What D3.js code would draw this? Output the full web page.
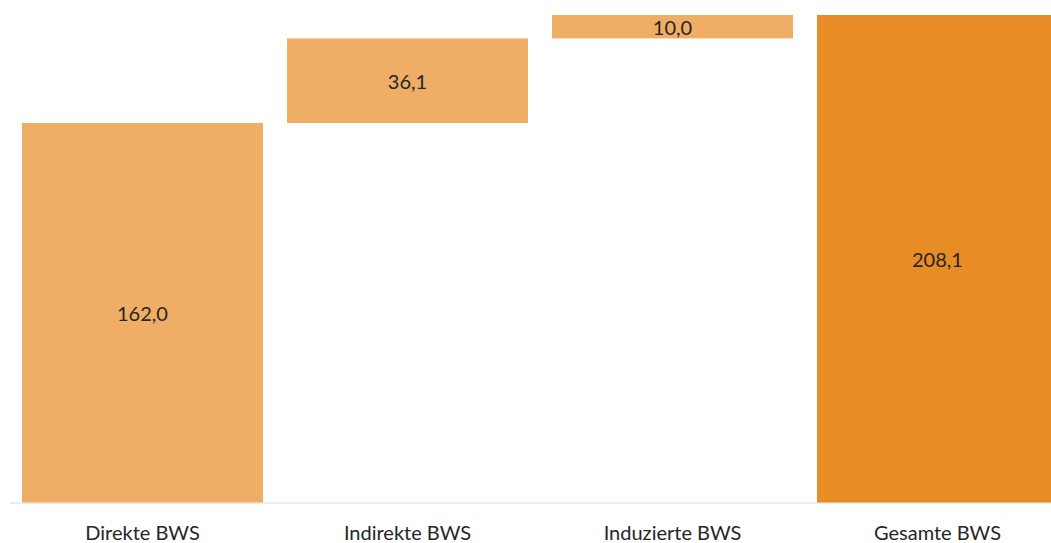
<!DOCTYPE html>
<html>
<head>
<meta charset="utf-8">
<script src="https://cdn.jsdelivr.net/npm/d3@7"></script>
<style>
  html, body { margin: 0; padding: 0; background: #fff; }
  svg { display: block; }
</style>
</head>
<body>
<svg id="chart" width="1051" height="543"></svg>
<script>
// Bruttowertschöpfung: direkte, indirekte, induzierte Effekte und Summe
const categories = ["Direkte BWS", "Indirekte BWS", "Induzierte BWS", "Gesamte BWS"];
const values = [162.0, 36.1, 10.0, 208.1];
const isTotal = [false, false, false, true];
const valueLabels = ["162,0", "36,1", "10,0", "208,1"];

const width = 1051, height = 543;
const svg = d3.select("#chart");

// Waterfall segments: each step starts where the previous one ended
let running = 0;
const segments = categories.map((c, i) => {
  let y0, y1;
  if (isTotal[i]) { y0 = 0; y1 = values[i]; }
  else { y0 = running; y1 = running + values[i]; running = y1; }
  return { cat: c, y0, y1, total: isTotal[i], label: valueLabels[i] };
});

const x = d3.scaleBand()
  .domain(categories)
  .range([10, 1070])
  .paddingInner(0.0906)
  .paddingOuter(0.0453);

const y = d3.scaleLinear()
  .domain([0, 208.1])
  .range([502.5, 15]);

const colorStep = "#F0AD65";
const colorTotal = "#E88C25";
const font = "Lato, 'Open Sans', sans-serif";

// baseline
svg.append("line")
  .attr("x1", x.range()[0]).attr("x2", x.range()[1])
  .attr("y1", y(0) + 0.5).attr("y2", y(0) + 0.5)
  .attr("stroke", "#D9D9D9").attr("stroke-width", 1);

svg.append("g").selectAll("rect")
  .data(segments)
  .join("rect")
  .attr("x", d => x(d.cat))
  .attr("width", x.bandwidth())
  .attr("y", d => y(d.y1))
  .attr("height", d => y(d.y0) - y(d.y1))
  .attr("fill", d => d.total ? colorTotal : colorStep);

svg.append("g").selectAll("text")
  .data(segments)
  .join("text")
  .attr("x", d => x(d.cat) + x.bandwidth() / 2)
  .attr("y", d => (y(d.y0) + y(d.y1)) / 2)
  .attr("text-anchor", "middle")
  .attr("dominant-baseline", "central")
  .attr("font-family", font)
  .attr("font-size", 20)
  .attr("fill", "#262626")
  .text(d => d.label);

// category axis labels
const xAxis = d3.axisBottom(x).tickSize(0).tickPadding(0);
const gx = svg.append("g")
  .attr("transform", `translate(0, ${y(0)})`)
  .call(xAxis);
gx.select(".domain").remove();
gx.selectAll("text")
  .attr("y", 30)
  .attr("dy", "0.35em")
  .attr("font-family", font)
  .attr("font-size", 20)
  .attr("fill", "#262626");
</script>
</body>
</html>
